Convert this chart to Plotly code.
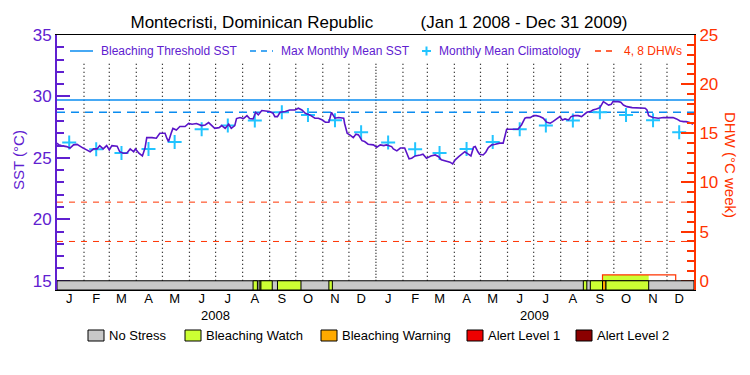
import pandas as pd
import plotly.graph_objects as go

# ---------------- data ----------------
start_date = "2008-01-01"
end_date = "2010-01-01"

# SST samples: day offset from Jan 1 2008 and SST (deg C)
sst_day = [0, 2, 5, 11, 15, 19, 23, 26, 30, 34, 38, 42, 46, 49, 53, 57, 60, 63, 69, 72,
           76, 80, 84, 88, 90, 94, 98, 101, 103, 109, 114, 118, 124, 126, 128, 131, 133, 137, 141, 147,
           151, 155, 160, 166, 170, 174, 178, 181, 186, 189, 193, 197, 200, 204, 206, 210, 214, 218, 221, 225,
           228, 231, 235, 241, 244, 248, 250, 253, 256, 262, 267, 273, 277, 281, 285, 290, 296, 300, 304, 308,
           312, 315, 319, 323, 329, 330, 333, 336, 340, 343, 346, 350, 353, 357, 363, 367, 371, 375, 378, 384,
           386, 390, 394, 399, 401, 404, 407, 411, 417, 420, 424, 429, 434, 438, 441, 447, 451, 454, 457, 461,
           464, 468, 472, 475, 478, 480, 483, 485, 489, 492, 495, 499, 503, 508, 512, 514, 516, 522, 529, 533,
           537, 539, 543, 547, 550, 554, 558, 562, 566, 569, 573, 577, 580, 583, 587, 590, 594, 598, 602, 605,
           608, 612, 615, 619, 623, 627, 630, 633, 636, 638, 644, 647, 650, 654, 660, 667, 675, 677, 679, 684,
           690, 696, 701, 707, 711, 715, 719, 722, 726, 730]
sst_val = [26.2, 26.06, 26.0, 25.92, 25.8, 26.06, 26.1, 26.0, 25.8, 25.65, 25.5, 25.73, 25.73, 26.0, 25.73, 26.0, 25.65, 26.0, 25.95, 25.5,
           25.38, 25.38, 25.73, 25.5, 25.73, 25.38, 25.16, 25.8, 26.65, 26.65, 26.6, 27.0, 27.0, 26.6, 26.33, 27.0, 27.4, 27.27, 27.55, 27.55,
           27.8, 27.74, 27.8, 27.63, 27.68, 27.87, 27.55, 27.4, 27.46, 27.63, 27.4, 27.74, 27.4, 27.63, 28.2, 28.28, 28.2, 28.44, 28.2, 28.17,
           28.71, 28.5, 28.85, 28.77, 28.77, 28.63, 28.36, 28.36, 28.71, 28.77, 28.9, 28.9, 29.04, 28.9, 28.63, 28.5, 28.23, 28.23, 28.1, 27.9,
           27.9, 28.71, 28.23, 28.28, 28.23, 27.82, 27.0, 26.87, 26.65, 26.93, 26.87, 26.4, 26.33, 26.11, 26.06, 25.87, 26.06, 26.0, 26.06, 25.92,
           25.73, 25.57, 25.8, 25.8, 25.38, 24.92, 24.97, 25.16, 25.24, 25.3, 24.97, 25.16, 25.24, 25.1, 24.84, 24.7, 24.65, 24.51, 24.84, 25.1,
           25.24, 25.5, 25.3, 25.16, 25.87, 25.92, 25.5, 25.3, 25.24, 25.46, 25.84, 26.06, 26.11, 26.2, 26.2, 26.87, 27.33, 27.33, 27.33, 27.68,
           28.23, 28.28, 28.28, 28.44, 28.44, 28.36, 28.23, 27.9, 27.82, 27.95, 28.17, 28.36, 28.09, 28.17, 28.09, 28.36, 28.44, 28.44, 28.36, 28.55,
           28.71, 28.77, 28.9, 28.98, 29.09, 29.58, 29.45, 29.3, 29.36, 29.58, 29.58, 29.53, 29.3, 29.17, 29.09, 29.09, 29.04, 28.9, 28.44, 28.28,
           28.23, 28.28, 28.28, 28.28, 28.17, 28.0, 27.95, 27.95, 27.87, 27.74]

# monthly mean climatology (Jan..Dec), plotted mid-month for both years
clim_vals = [26.25, 25.7, 25.4, 25.73, 26.3, 27.33, 27.63, 28.04, 28.72, 28.49, 28.06, 27.09]
month_letters = ["J", "F", "M", "A", "M", "J", "J", "A", "S", "O", "N", "D"]
year_labels = ["2008", "2009"]
year_mid = ["2008-07-01", "2009-07-02"]

mmm = 28.72                 # max monthly mean SST
threshold = mmm + 1.0       # bleaching threshold SST
dhw_levels = [4, 8]

# bleaching stress periods
stress_start = ["2008-08-13", "2008-08-20", "2008-08-22", "2008-09-10", "2008-11-08",
                "2009-08-27", "2009-09-04", "2009-09-18", "2009-09-22"]
stress_end = ["2008-08-18", "2008-08-22", "2008-09-04", "2008-10-07", "2008-11-12",
              "2009-08-31", "2009-09-18", "2009-09-22", "2009-11-10"]
stress_level = ["watch", "watch", "watch", "watch", "watch",
                "watch", "watch", "warning", "watch"]

# degree heating weeks
dhw_x = ["2009-09-18", "2009-09-18", "2009-12-11", "2009-12-11"]
dhw_y = [0, 0.6, 0.6, 0]
dhw_fill_x = ["2009-09-18", "2009-09-18", "2009-11-10", "2009-11-10"]

stress_names = ["No Stress", "Bleaching Watch", "Bleaching Warning", "Alert Level 1", "Alert Level 2"]
stress_colors = ["#C8C8C8", "#CCFF33", "#FFAA00", "#EE0000", "#8B0000"]
level_color = dict(zip(["none", "watch", "warning", "alert1", "alert2"], stress_colors))

# ---------------- style / layout helpers ----------------
PURPLE = "#6020D0"
LINE = "#5A14C8"
RED = "#FF3300"
BLUE = "#0A8CF0"
CYAN = "#22C4FF"
FONT = "Liberation Sans"

# the page body adds an 8px offset; design in page pixels and compensate
OFF = 8
PAGE_W, PAGE_H = 750, 375
W, H = PAGE_W - OFF, PAGE_H - OFF
PLOT_L, PLOT_R, PLOT_T, PLOT_B = 57, 694, 35, 290      # plot area in page pixels
ML, MT = PLOT_L - OFF, PLOT_T - OFF
MR, MB = W - (PLOT_R - OFF), H - (PLOT_B - OFF)
PW, PH = PLOT_R - PLOT_L, PLOT_B - PLOT_T


def px(x):  # page pixel x -> paper x
    return (x - PLOT_L) / PW


def py(y):  # page pixel y -> paper y
    return (PLOT_B - y) / PH


t0 = pd.Timestamp(start_date)
sst_dates = [t0 + pd.Timedelta(days=d) for d in sst_day]
month_starts = pd.date_range(start_date, "2009-12-01", freq="MS")
mid_months = [m + pd.Timedelta(days=14) for m in month_starts]
clim_all = clim_vals * 2
ticktext = month_letters * 2

y_lo, y_hi = 14.25, 35
y2_lo, y2_hi = (y_lo - 15) * 1.25, (y_hi - 15) * 1.25

fig = go.Figure()

fig.add_trace(go.Scatter(x=[start_date, end_date], y=[threshold, threshold], mode="lines",
                         line=dict(color=BLUE, width=1.5), name="Bleaching Threshold SST",
                         showlegend=False))
fig.add_trace(go.Scatter(x=[start_date, end_date], y=[mmm, mmm], mode="lines",
                         line=dict(color=BLUE, width=1.5, dash="8px,6px"), name="Max Monthly Mean SST",
                         showlegend=False))
fig.add_trace(go.Scatter(x=mid_months, y=clim_all, mode="markers",
                         marker=dict(symbol="cross-thin", size=10, line=dict(color=CYAN, width=2)),
                         name="Monthly Mean Climatology", showlegend=False))
for lv in dhw_levels:
    fig.add_trace(go.Scatter(x=[start_date, end_date], y=[lv, lv], mode="lines", yaxis="y2",
                             line=dict(color=RED, width=1, dash="6px,6px"), name="4, 8 DHWs",
                             showlegend=False))
fig.add_trace(go.Scatter(x=sst_dates, y=sst_val, mode="lines", line=dict(color=LINE, width=1.6),
                         name="SST", showlegend=False))
fig.add_trace(go.Scatter(x=dhw_fill_x, y=dhw_y, yaxis="y2", mode="lines", fill="toself",
                         fillcolor=level_color["watch"], line=dict(width=0), showlegend=False))
fig.add_trace(go.Scatter(x=dhw_x, y=dhw_y, yaxis="y2", mode="lines",
                         line=dict(color=RED, width=1.2), name="DHW", showlegend=False))

shapes = []
annotations = []

# monthly dotted separators
for m in month_starts[1:]:
    dash = "1px,2px" if m.month == 1 else "1px,3px"
    shapes.append(dict(type="line", xref="x", yref="y", x0=m, x1=m, y0=15, y1=32.8,
                       line=dict(color="black", width=1.2, dash=dash), layer="below"))

# stress bar
shapes.append(dict(type="rect", xref="x", yref="y", x0=start_date, x1=end_date, y0=y_lo, y1=15,
                   fillcolor=level_color["none"], line=dict(color="black", width=1), layer="above"))
for s, e, lv in zip(stress_start, stress_end, stress_level):
    shapes.append(dict(type="rect", xref="x", yref="y", x0=s, x1=e, y0=y_lo, y1=15,
                       fillcolor=level_color[lv], line=dict(color="black", width=1), layer="above"))

# top legend (drawn manually)
leg_y = 51
top_items = [
    ("Bleaching Threshold SST", PURPLE, "line", BLUE, "solid", 70, 93, 99),
    ("Max Monthly Mean SST", PURPLE, "line", BLUE, "6px,5px", 250, 273, 279),
    ("Monthly Mean Climatology", PURPLE, "cross", CYAN, None, 422, 431, 437),
    ("4, 8 DHWs", RED, "line", RED, "6px,5px", 595, 617, 622),
]
for label, tcol, kind, scol, dash, s0, s1, tx in top_items:
    if kind == "line":
        shapes.append(dict(type="line", xref="paper", yref="paper", x0=px(s0), x1=px(s1),
                           y0=py(leg_y), y1=py(leg_y), line=dict(color=scol, width=1.5, dash=dash)))
    else:
        c = (s0 + s1) / 2
        shapes.append(dict(type="line", xref="paper", yref="paper", x0=px(s0), x1=px(s1),
                           y0=py(leg_y), y1=py(leg_y), line=dict(color=scol, width=2)))
        shapes.append(dict(type="line", xref="paper", yref="paper", x0=px(c), x1=px(c),
                           y0=py(leg_y - 4.5), y1=py(leg_y + 4.5), line=dict(color=scol, width=2)))
    annotations.append(dict(x=px(tx), y=py(leg_y), xref="paper", yref="paper", text=label,
                            showarrow=False, xanchor="left", yanchor="middle",
                            font=dict(family=FONT, size=12, color=tcol)))

# bottom stress legend (drawn manually)
box_left = [88, 185, 321, 467, 576]
box_y0, box_y1 = 330, 341
for nm, col, bx in zip(stress_names, stress_colors, box_left):
    shapes.append(dict(type="rect", xref="paper", yref="paper", x0=px(bx), x1=px(bx + 16),
                       y0=py(box_y1), y1=py(box_y0), fillcolor=col,
                       line=dict(color="black", width=1)))
    annotations.append(dict(x=px(bx + 19), y=py((box_y0 + box_y1) / 2), xref="paper", yref="paper",
                            text=nm, showarrow=False, xanchor="left", yanchor="middle",
                            font=dict(family=FONT, size=13, color="black")))

# year labels
for yl, ym in zip(year_labels, year_mid):
    annotations.append(dict(x=ym, xref="x", y=py(315), yref="paper", text=yl, showarrow=False,
                            font=dict(family=FONT, size=13, color="black"), yanchor="middle"))
# right axis title
annotations.append(dict(x=px(731), xref="paper", y=py(165), yref="paper", text="DHW (°C week)",
                        textangle=90, showarrow=False, xanchor="center", yanchor="middle",
                        font=dict(family=FONT, size=15, color=RED)))
# left axis title
annotations.append(dict(x=px(18), xref="paper", y=py(160), yref="paper", text="SST (°C)",
                        textangle=-90, showarrow=False, xanchor="center", yanchor="middle",
                        font=dict(family=FONT, size=15, color=PURPLE)))

fig.update_layout(
    width=W, height=H,
    margin=dict(l=ML, r=MR, t=MT, b=MB, pad=0, autoexpand=False),
    paper_bgcolor="white", plot_bgcolor="white",
    showlegend=False,
    title=dict(text="Montecristi, Dominican Republic" + "\u00a0" * 10 + "(Jan 1 2008 - Dec 31 2009)",
               x=0.5, xanchor="center", y=1 - (22 - OFF) / H, yanchor="middle",
               font=dict(family=FONT, size=17, color="black")),
    xaxis=dict(range=[start_date, end_date], tickmode="array", tickvals=mid_months, ticktext=ticktext,
               ticks="", showgrid=False, zeroline=False, showline=True, linecolor="black",
               linewidth=1, mirror=True, automargin=False, ticklabelstandoff=-4,
               tickfont=dict(family=FONT, size=13, color="black")),
    yaxis=dict(range=[y_lo, y_hi], tickvals=[15, 20, 25, 30, 35], ticks="inside", ticklen=13,
               tickcolor=PURPLE, tickwidth=1.5, showgrid=False, zeroline=False, showline=True,
               linecolor=PURPLE, linewidth=2, automargin=False,
               minor=dict(tickvals=list(range(16, 35)), ticks="inside", ticklen=7, tickcolor=PURPLE),
               tickfont=dict(family=FONT, size=17, color=PURPLE)),
    yaxis2=dict(range=[y2_lo, y2_hi], overlaying="y", side="right", tickvals=[0, 5, 10, 15, 20, 25],
                ticks="inside", ticklen=13, tickcolor=RED, tickwidth=1.5, showgrid=False,
                zeroline=False, showline=True, linecolor=RED, linewidth=2, automargin=False,
                minor=dict(tickvals=list(range(1, 25)), ticks="inside", ticklen=7, tickcolor=RED),
                tickfont=dict(family=FONT, size=17, color=RED)),
    shapes=shapes,
    annotations=annotations,
)

fig.write_html("out.html")
